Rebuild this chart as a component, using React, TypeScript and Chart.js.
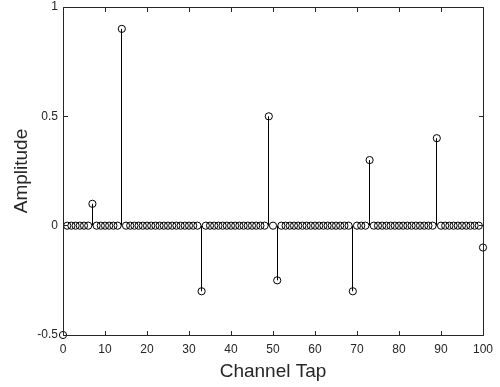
import React, { useEffect, useRef } from "react";
import { Chart, registerables } from "chart.js";

Chart.register(...registerables);

// Channel impulse response amplitudes, taps 0..100
const amplitudes: number[] = [
  -0.5, 0, 0, 0, 0, 0, 0, 0.1, 0, 0, // 0-9
  0, 0, 0, 0, 0.9, 0, 0, 0, 0, 0, // 10-19
  0, 0, 0, 0, 0, 0, 0, 0, 0, 0, // 20-29
  0, 0, 0, -0.3, 0, 0, 0, 0, 0, 0, // 30-39
  0, 0, 0, 0, 0, 0, 0, 0, 0, 0.5, // 40-49
  0, -0.25, 0, 0, 0, 0, 0, 0, 0, 0, // 50-59
  0, 0, 0, 0, 0, 0, 0, 0, 0, -0.3, // 60-69
  0, 0, 0, 0.3, 0, 0, 0, 0, 0, 0, // 70-79
  0, 0, 0, 0, 0, 0, 0, 0, 0, 0.4, // 80-89
  0, 0, 0, 0, 0, 0, 0, 0, 0, 0, // 90-99
  -0.1, // 100
];
const taps: number[] = amplitudes.map((_, i) => i);

const xTicks: number[] = [0, 10, 20, 30, 40, 50, 60, 70, 80, 90, 100];
const yTicks: number[] = [-0.5, 0, 0.5, 1];
const xTitle = "Channel Tap";
const yTitle = "Amplitude";

const FONT = "'Liberation Sans', Arial, Helvetica, sans-serif";
const AXIS_COLOR = "#262626";

const stemPlugin = {
  id: "stems",
  beforeDatasetsDraw(chart: any) {
    const { ctx, scales } = chart;
    const xs = scales.x;
    const ys = scales.y;
    ctx.save();
    ctx.strokeStyle = "#000";
    ctx.lineWidth = 1;
    const y0 = ys.getPixelForValue(0);
    taps.forEach((t, i) => {
      const v = amplitudes[i];
      if (v === 0) return;
      const px = Math.floor(xs.getPixelForValue(t)) + 0.5;
      ctx.beginPath();
      ctx.moveTo(px, y0);
      ctx.lineTo(px, ys.getPixelForValue(v));
      ctx.stroke();
    });
    ctx.restore();
  },
};

const boxPlugin = {
  id: "boxTicks",
  afterDatasetsDraw(chart: any) {
    const { ctx, chartArea, scales } = chart;
    const { left, right, top, bottom } = chartArea;
    const L = Math.floor(left) + 0.5;
    const R = Math.floor(right) + 0.5;
    const T = Math.floor(top) + 0.5;
    const B = Math.floor(bottom) + 0.5;
    const tl = 4.5;
    ctx.save();
    ctx.strokeStyle = AXIS_COLOR;
    ctx.lineWidth = 1;
    ctx.beginPath();
    ctx.rect(L, T, R - L, B - T);
    ctx.stroke();
    ctx.beginPath();
    xTicks.forEach((v) => {
      const px = Math.floor(scales.x.getPixelForValue(v)) + 0.5;
      ctx.moveTo(px, B);
      ctx.lineTo(px, B - tl);
      ctx.moveTo(px, T);
      ctx.lineTo(px, T + tl);
    });
    yTicks.forEach((v) => {
      const py = Math.floor(scales.y.getPixelForValue(v)) + 0.5;
      ctx.moveTo(L, py);
      ctx.lineTo(L + tl, py);
      ctx.moveTo(R, py);
      ctx.lineTo(R - tl, py);
    });
    ctx.stroke();
    ctx.restore();
  },
};

export default function App() {
  const canvasRef = useRef<HTMLCanvasElement | null>(null);

  useEffect(() => {
    if (!canvasRef.current) return;
    const chart = new Chart(canvasRef.current, {
      type: "scatter",
      data: {
        datasets: [
          {
            label: yTitle,
            data: taps.map((t, i) => ({ x: t, y: amplitudes[i] })),
            pointRadius: 3.6,
            pointBorderWidth: 1,
            pointBorderColor: "#000",
            pointBackgroundColor: "rgba(0,0,0,0)",
            pointHoverRadius: 3.6,
            showLine: false,
            clip: false as any,
          },
        ],
      },
      options: {
        responsive: false,
        animation: false,
        events: [],
        layout: { padding: { top: 7, right: 17, left: 0, bottom: 0 } },
        plugins: {
          legend: { display: false },
          tooltip: { enabled: false },
        },
        scales: {
          x: {
            type: "linear",
            min: 0,
            max: 100,
            afterBuildTicks: (s: any) => {
              s.ticks = xTicks.map((v) => ({ value: v }));
            },
            afterFit: (s: any) => {
              s.height = 52;
              s.paddingLeft = 0;
              s.paddingRight = 0;
            },
            grid: { display: false, drawTicks: false },
            border: { display: false },
            ticks: {
              autoSkip: false,
              maxRotation: 0,
              padding: 7,
              color: AXIS_COLOR,
              font: { family: FONT, size: 12 },
              callback: (v: any) => String(v),
            },
            title: {
              display: true,
              text: xTitle,
              color: AXIS_COLOR,
              font: { family: FONT, size: 19 },
              padding: { top: 0, bottom: 4 },
            },
          },
          y: {
            type: "linear",
            min: -0.5,
            max: 1,
            afterBuildTicks: (s: any) => {
              s.ticks = yTicks.map((v) => ({ value: v }));
            },
            afterFit: (s: any) => {
              s.width = 63;
              s.paddingTop = 0;
              s.paddingBottom = 0;
            },
            grid: { display: false, drawTicks: false },
            border: { display: false },
            ticks: {
              autoSkip: false,
              padding: 5,
              color: AXIS_COLOR,
              font: { family: FONT, size: 12 },
              callback: (v: any) => String(v),
            },
            title: {
              display: true,
              text: yTitle,
              color: AXIS_COLOR,
              font: { family: FONT, size: 19 },
              padding: { top: 10, bottom: 0 },
            },
          },
        },
      } as any,
      plugins: [stemPlugin, boxPlugin],
    });
    return () => chart.destroy();
  }, []);

  return (
    <div style={{ position: "absolute", left: 0, top: 0, width: 500, height: 387, background: "#fff" }}>
      <canvas ref={canvasRef} width={500} height={387} style={{ display: "block" }} />
    </div>
  );
}
